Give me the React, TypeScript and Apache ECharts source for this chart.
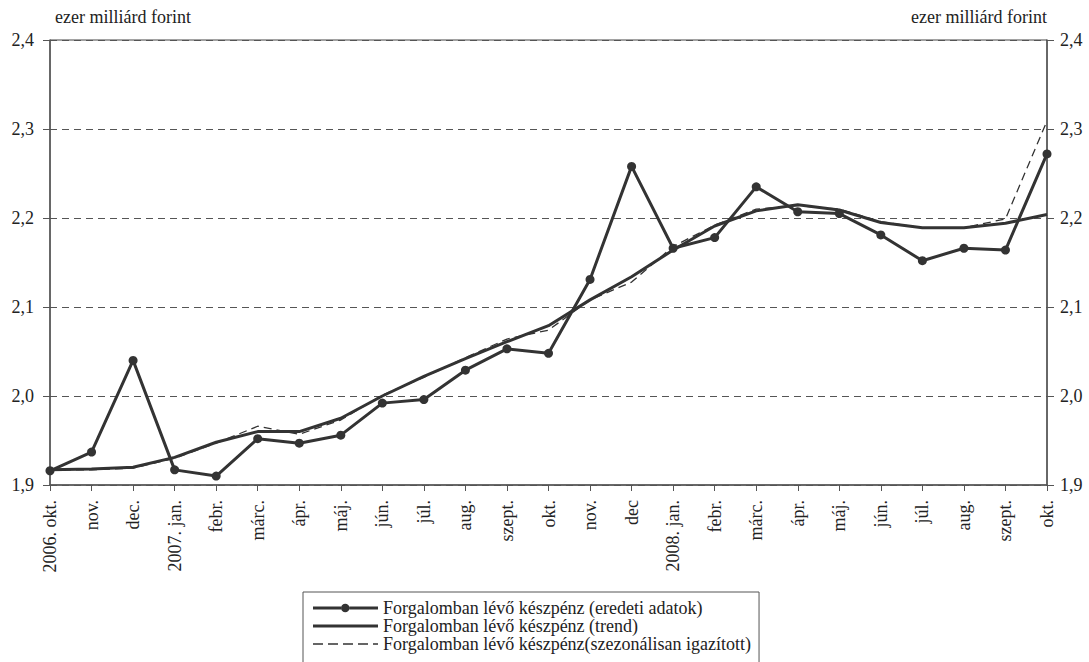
import React, { useEffect, useRef } from "react";
import * as echarts from "echarts";

const categories = [
  "2006. okt.", "nov.", "dec.", "2007. jan.", "febr.", "márc.", "ápr.", "máj.", "jún.", "júl.", "aug.", "szept.", "okt.",
  "nov.", "dec", "2008. jan.", "febr.", "márc.", "ápr.", "máj.", "jún.", "júl.", "aug.", "szept.", "okt.",
];

const eredeti = [
  1.916, 1.937, 2.040, 1.917, 1.910, 1.952, 1.947, 1.956, 1.992, 1.996, 2.029, 2.053, 2.048,
  2.131, 2.258, 2.166, 2.178, 2.235, 2.207, 2.205, 2.181, 2.152, 2.166, 2.164, 2.272,
];

const trend = [
  1.917, 1.918, 1.920, 1.931, 1.948, 1.960, 1.960, 1.975, 2.000, 2.022, 2.042, 2.061, 2.079,
  2.108, 2.134, 2.164, 2.191, 2.208, 2.215, 2.209, 2.195, 2.189, 2.189, 2.194, 2.204,
];

const szezonalis = [
  1.917, 1.917, 1.919, 1.930, 1.947, 1.966, 1.957, 1.973, 2.001, 2.021, 2.043, 2.064, 2.074,
  2.108, 2.128, 2.168, 2.192, 2.210, 2.214, 2.210, 2.196, 2.189, 2.189, 2.199, 2.309,
];

const seriesNames = [
  "Forgalomban lévő készpénz (eredeti adatok)",
  "Forgalomban lévő készpénz (trend)",
  "Forgalomban lévő készpénz(szezonálisan igazított)",
];

const unitLabel = "ezer milliárd forint";

const FONT = "Liberation Serif";
const TEXT = "#222";
const AXIS = "#555";
const LINE = "#333";

const ICON_MARKER =
  "path://M0,2.75H28V5.75H0Z M36.5,2.75H65V5.75H36.5Z M28,4.25a4.25,4.25 0 1,0 8.5,0a4.25,4.25 0 1,0 -8.5,0Z";
const ICON_SOLID = "path://M0,0H65V3H0Z";
const ICON_DASH = "path://M0,0H10V1.5H0Z M15,0H25V1.5H15Z M30,0H40V1.5H30Z M45,0H55V1.5H45Z M60,0H65V1.5H60Z";

export default function App() {
  const ref = useRef<HTMLDivElement>(null);

  useEffect(() => {
    if (!ref.current) return;
    const chart = echarts.init(ref.current, undefined, { renderer: "svg" });
    const fmt = (v: number) => v.toFixed(1).replace(".", ",");
    const yCommon = {
      type: "value",
      min: 1.9,
      max: 2.4,
      interval: 0.1,
      axisLine: { show: true, lineStyle: { color: AXIS, width: 1.5 } },
      axisTick: { show: true, length: 7, lineStyle: { color: AXIS, width: 1 } },
    };
    chart.setOption({
      animation: false,
      backgroundColor: "#fff",
      textStyle: { fontFamily: FONT, color: TEXT },
      grid: {
        left: 50,
        right: 42,
        top: 40,
        bottom: 177,
        containLabel: false,
        outerBoundsMode: "none",
        show: true,
        borderColor: "#444",
        borderWidth: 1,
      },
      graphic: [
        {
          type: "text",
          left: 55,
          top: 8,
          style: { text: unitLabel, fontFamily: FONT, fontSize: 18, fill: TEXT },
        },
        {
          type: "text",
          right: 42,
          top: 8,
          style: { text: unitLabel, fontFamily: FONT, fontSize: 18, fill: TEXT },
        },
      ],
      legend: {
        orient: "vertical",
        left: 303,
        top: 592,
        height: 200,
        data: [
          { name: seriesNames[0], icon: ICON_MARKER },
          { name: seriesNames[1], icon: ICON_SOLID },
          { name: seriesNames[2], icon: ICON_DASH },
        ],
        itemWidth: 65,
        itemHeight: 14,
        itemGap: 0,
        symbolKeepAspect: true,
        padding: [7, 8, 20, 10],
        borderColor: AXIS,
        borderWidth: 1,
        backgroundColor: "#fff",
        textStyle: { fontFamily: FONT, fontSize: 18, color: TEXT, lineHeight: 14 },
      },
      xAxis: {
        type: "category",
        data: categories,
        boundaryGap: false,
        axisLine: { show: true, lineStyle: { color: AXIS, width: 1.5 } },
        axisTick: { show: true, alignWithLabel: true, interval: 0, length: 6, lineStyle: { color: AXIS } },
        axisLabel: {
          interval: 0,
          rotate: 90,
          margin: 15,
          fontFamily: FONT,
          fontSize: 18,
          color: TEXT,
        },
        splitLine: { show: false },
      },
      yAxis: [
        {
          ...yCommon,
          position: "left",
          axisLabel: { formatter: fmt, fontFamily: FONT, fontSize: 18, color: TEXT, margin: 16 },
          splitLine: { show: true, lineStyle: { color: AXIS, width: 1, type: [7, 5] } },
        },
        {
          ...yCommon,
          position: "right",
          axisLabel: { formatter: fmt, fontFamily: FONT, fontSize: 18, color: TEXT, margin: 13 },
          splitLine: { show: false },
        },
      ],
      series: [
        {
          name: seriesNames[2],
          type: "line",
          data: szezonalis,
          symbol: "none",
          z: 2,
          lineStyle: { color: LINE, width: 1.3, type: [8, 5] },
          itemStyle: { color: LINE },
        },
        {
          name: seriesNames[1],
          type: "line",
          data: trend,
          symbol: "none",
          z: 3,
          lineStyle: { color: LINE, width: 3 },
          itemStyle: { color: LINE },
        },
        {
          name: seriesNames[0],
          type: "line",
          data: eredeti,
          symbol: "circle",
          symbolSize: 9,
          showSymbol: true,
          z: 4,
          lineStyle: { color: LINE, width: 3 },
          itemStyle: { color: LINE },
        },
      ],
    });
    return () => chart.dispose();
  }, []);

  return (
    <div
      ref={ref}
      style={{ position: "fixed", left: 0, top: 0, width: 1089, height: 662, background: "#fff" }}
    />
  );
}
